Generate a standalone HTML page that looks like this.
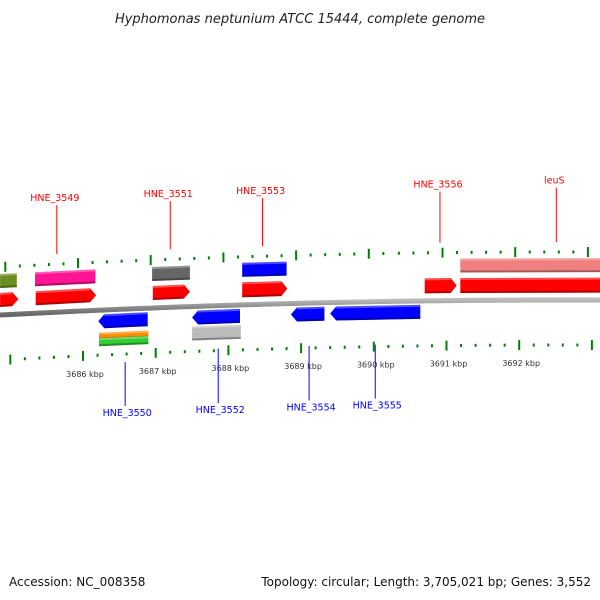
<!DOCTYPE html>
<html><head><meta charset="utf-8">
<style>
html,body{margin:0;padding:0;background:#fff;}
svg{display:block;font-family:"DejaVu Sans","Liberation Sans",sans-serif;}
</style></head>
<body>
<svg id="chart" width="600" height="600" viewBox="0 0 600 600" xmlns="http://www.w3.org/2000/svg">
<defs>
<linearGradient id="bbg" x1="0" y1="0" x2="0" y2="1"><stop offset="0" stop-color="#bbb"/><stop offset="0.5" stop-color="#888"/><stop offset="1" stop-color="#666"/></linearGradient>
</defs>
<text x="300" y="23" text-anchor="middle" font-size="13" font-style="italic" fill="#222">Hyphomonas neptunium ATCC 15444, complete genome</text>
<g id="ticks"></g>
<path id="backbone" fill="none" stroke="url(#bbg)" stroke-width="5"/>
<g id="genes"></g>
<g id="labels"></g>
<text x="9" y="586" font-size="12" fill="#111">Accession: NC_008358</text>
<text x="591" y="586" text-anchor="end" font-size="12" fill="#111">Topology: circular; Length: 3,705,021 bp; Genes: 3,552</text>
</svg>
<script>
const geneNames=["","","","","","","","","","","","","","","","","","",""];
const geneStart=[3684.86,3684.86,3685.34,3685.35,3686.95,3686.96,3688.19,3688.19,3690.70,3691.19,3691.19,3686.21,3686.22,3686.22,3687.50,3687.50,3688.86,3689.40];
const geneEnd  =[3685.09,3685.11,3686.17,3686.18,3687.47,3687.47,3688.80,3688.81,3691.14,3693.2,3693.2,3686.89,3686.90,3686.90,3688.16,3688.17,3689.32,3690.64];
const geneRow  =[-34,-15,-34,-15,-34,-15,-35,-15,-15,-35,-15,11,26,32,11,27,11,11];
const geneColor=["#6b8e23","#ff0000","#ff1493","#ff0000","#666666","#ff0000","#0000ff","#ff0000","#ff0000","#f08080","#ff0000","#0000ff","#ff8c00","#32cd32","#0000ff","#bbbbbb","#0000ff","#0000ff"];
const geneHeight=[14,14,14,14,14,14,14,15,15,14,15,14,7,8,14,14,14,14];
const geneArrow=[0,1,0,1,0,1,0,1,1,0,0,-1,0,0,-1,0,-1,-1];
const tickStart=3684.8, tickEnd=3693.2, tickStep=0.2;
const axisLabels=["3686 kbp","3687 kbp","3688 kbp","3689 kbp","3690 kbp","3691 kbp","3692 kbp"];
const axisLabelPos=[3686,3687,3688,3689,3690,3691,3692];
const fwdLabels=["HNE_3549","HNE_3551","HNE_3553","HNE_3556","leuS"];
const fwdLabelPos=[3685.64,3687.20,3688.47,3690.91,3692.51];
const revLabels=["HNE_3550","HNE_3552","HNE_3554","HNE_3555"];
const revLabelPos=[3686.58,3687.86,3689.11,3690.02];
const NS="http://www.w3.org/2000/svg";
function xs(k){return 83+(k-3686)*72.7;}
function bb(x){return 300+4.8e-5*(x-560)*(x-560);}
function mk(t,a,p){const e=document.createElementNS(NS,t);for(const k in a)e.setAttribute(k,a[k]);p.appendChild(e);return e;}
// backbone
let d="";for(let x=-5;x<=605;x+=5){d+=(x===-5?"M":"L")+x+","+bb(x).toFixed(2);}
document.getElementById("backbone").setAttribute("d",d);
// ticks
const tg=document.getElementById("ticks");
const n=Math.round((tickEnd-tickStart)/tickStep);
for(let i=0;i<=n;i++){const k=tickStart+i*tickStep;const major=Math.abs(k-Math.round(k))<0.01;
 const xl=xs(k), xu=xs(k)-5+ (xs(k)>400?1:0);
 const len=major?5:1.5;
 const t1=mk("line",{x1:xu,x2:xu,y1:bb(xu)-48-len,y2:bb(xu)-48+len,stroke:"#008000","stroke-width":2},tg);
 
 
 const t2=mk("line",{x1:xl,x2:xl,y1:bb(xl)+45-len,y2:bb(xl)+45+len,stroke:"#008000","stroke-width":2},tg);
 
 
}
axisLabels.forEach((s,i)=>{const x=xs(axisLabelPos[i])+2;const t=mk("text",{x:x,y:bb(x)+66,"text-anchor":"middle","font-size":"8",fill:"#333"},tg);t.textContent=s;
 
 });
// genes
const gg=document.getElementById("genes");
geneStart.forEach((s,i)=>{const x1=xs(s),x2=xs(geneEnd[i]);const h=geneHeight[i]/2;
 const y1=bb(x1)+geneRow[i],y2=bb(x2)+geneRow[i];const a=geneArrow[i];const ah=6;
 let pts;
 if(a===1)pts=[[x1,y1-h],[x2-ah,y2-h],[x2,y2],[x2-ah,y2+h],[x1,y1+h]];
 else if(a===-1)pts=[[x1+ah,y1-h],[x2,y2-h],[x2,y2+h],[x1+ah,y1+h],[x1,y1]];
 else pts=[[x1,y1-h],[x2,y2-h],[x2,y2+h],[x1,y1+h]];
 const p=mk("polygon",{points:pts.map(q=>q[0].toFixed(1)+","+q[1].toFixed(1)).join(" "),fill:geneColor[i]},gg);
 
 
 mk("line",{x1:x1+(a===-1?ah:0),y1:y1+h-1,x2:x2-(a===1?ah:0),y2:y2+h-1,stroke:"rgba(0,0,0,0.3)","stroke-width":2},gg);
 mk("line",{x1:x1+(a===-1?ah:0),y1:y1-h+1,x2:x2-(a===1?ah:0),y2:y2-h+1,stroke:"rgba(255,255,255,0.3)","stroke-width":2},gg);
});
// labels
const lg=document.getElementById("labels");
fwdLabels.forEach((s,i)=>{const x=xs(fwdLabelPos[i]);const yb=bb(x)-58;
 const l=mk("line",{x1:x,x2:x,y1:y1b(x),y2:yb,stroke:"#ff0000","stroke-width":1},lg);
 
 
 const t=mk("text",{x:x-2,y:y1b(x)-4,"text-anchor":"middle","font-size":"9.5",fill:"#ff0000"},lg);t.textContent=s;
 
 });
function y1b(x){return 205-(x-60)*0.035;}
revLabels.forEach((s,i)=>{const x=xs(revLabelPos[i]);const yt=bb(x)+43+(x<150?10:0);const ye=406-(x-125)*0.03;
 const l=mk("line",{x1:x,x2:x,y1:yt,y2:ye,stroke:"#0000ff","stroke-width":1},lg);
 
 
 const t=mk("text",{x:x+2,y:ye+10,"text-anchor":"middle","font-size":"9.5",fill:"#0000ff"},lg);t.textContent=s;
 
 });
</script>
</body></html>
